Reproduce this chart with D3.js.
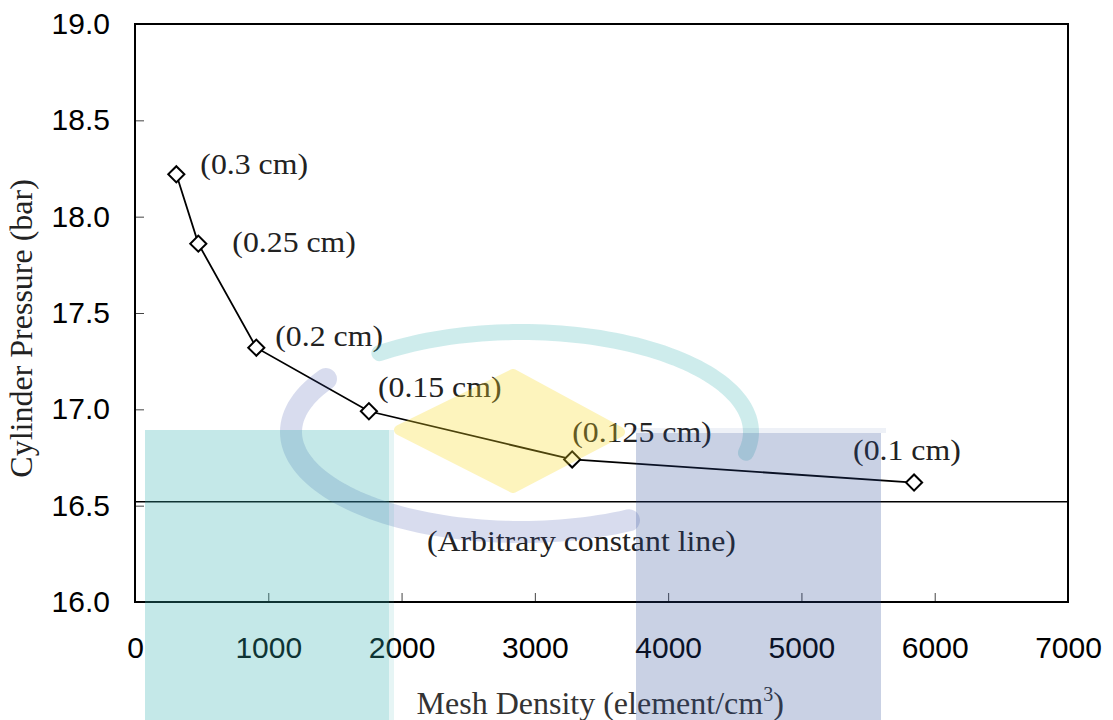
<!DOCTYPE html>
<html>
<head>
<meta charset="utf-8">
<script src="https://cdn.jsdelivr.net/npm/d3@7"></script>
<style>
  body { margin: 0; background: #fff; }
  svg { display: block; }
</style>
</head>
<body>
<svg id="chart" width="1113" height="720"></svg>
<script>

// ===========================//
// DATA
// ===========================//

// mesh density (element/cm3) and cylinder pressure (bar) for each element size
var meshDensity = [310, 475, 910, 1755, 3280, 5845]
var pressure    = [18.22, 17.86, 17.32, 16.99, 16.74, 16.62]
var sizeLabels  = ["(0.3 cm)", "(0.25 cm)", "(0.2 cm)", "(0.15 cm)", "(0.125 cm)", "(0.1 cm)"]

// arbitrary constant reference line
var constantValue = 16.52
var constantLabel = "(Arbitrary constant line)"

// ticks
var xTicks = [0, 1000, 2000, 3000, 4000, 5000, 6000, 7000]
var yTicks = [16.0, 16.5, 17.0, 17.5, 18.0, 18.5, 19.0]


// ===========================//
// LAYOUT
// ===========================//

var margin = {top: 24, left: 135, right: 45, bottom: 118}
var W = 1113, H = 720
var width = W - margin.left - margin.right
var height = H - margin.top - margin.bottom
var serif = "'Liberation Serif', 'Times New Roman', serif"

// where each size label sits relative to its point (pixels)
var labelOffsets = [[24, 0], [34, 8], [19, -2], [9, -14], [0, -17], [-61, -23]]

var svg = d3.select("#chart")
var g = svg.append("g").attr("transform", "translate(" + margin.left + "," + margin.top + ")")

var x = d3.scaleLinear().domain([0, 7000]).range([0, width])
var y = d3.scaleLinear().domain([16, 19]).range([height, 0])

var points = meshDensity.map(function(d, i){ return {x: d, y: pressure[i], label: sizeLabels[i]} })

// the serif text in the original is set a little wide
function widen(sel, k){
  sel.each(function(){
    var len = this.getComputedTextLength()
    d3.select(this).attr("textLength", len * k).attr("lengthAdjust", "spacingAndGlyphs")
  })
}


// ===========================//
// AXES
// ===========================//

var xAxis = g.append("g")
  .attr("transform", "translate(0," + height + ")")
  .call(d3.axisBottom(x).tickValues(xTicks).tickSizeInner(-9).tickSizeOuter(0)
    .tickFormat(d3.format("d")))

var yAxis = g.append("g")
  .call(d3.axisLeft(y).tickValues(yTicks).tickSizeInner(-9).tickSizeOuter(0).tickPadding(25)
    .tickFormat(d3.format(".1f")))

// remove the domain lines, the frame is drawn separately
xAxis.select(".domain").remove()
yAxis.select(".domain").remove()

g.selectAll(".tick line").attr("stroke", "#444").attr("stroke-width", 1)
g.selectAll(".tick text")
  .attr("fill", "#000")
  .style("font-family", "'Liberation Sans', Arial, sans-serif")
  .style("font-size", "30px")
xAxis.selectAll(".tick text").attr("dy", "0.36em").attr("y", 45)
// first and last ticks sit on the frame
xAxis.selectAll(".tick line").filter(function(d){ return d == 0 || d == 7000 }).remove()
yAxis.selectAll(".tick line").filter(function(d){ return d == 16 || d == 19 }).remove()

// frame
g.append("rect")
  .attr("width", width)
  .attr("height", height)
  .attr("fill", "none")
  .attr("stroke", "#000")
  .attr("stroke-width", 2)


// ===========================//
// CONSTANT LINE
// ===========================//

g.append("line")
  .attr("x1", 0).attr("x2", width)
  .attr("y1", y(constantValue)).attr("y2", y(constantValue))
  .attr("stroke", "#000")
  .attr("stroke-width", 1.5)

g.append("text")
  .attr("x", x(2190))
  .attr("y", y(constantValue) + 49)
  .style("font-family", serif)
  .style("font-size", "30px")
  .attr("fill", "#222")
  .text(constantLabel)
  .call(widen, 1.06)


// ===========================//
// CURVE + MARKERS
// ===========================//

var line = d3.line()
  .x(function(d){ return x(d.x) })
  .y(function(d){ return y(d.y) })

g.append("path")
  .datum(points)
  .attr("d", line)
  .attr("fill", "none")
  .attr("stroke", "#000")
  .attr("stroke-width", 1.8)

g.selectAll(".marker")
  .data(points)
  .enter()
  .append("path")
    .attr("class", "marker")
    .attr("d", d3.symbol().type(d3.symbolSquare).size(130))
    .attr("transform", function(d){ return "translate(" + x(d.x) + "," + y(d.y) + ") rotate(45)" })
    .attr("fill", "#fff")
    .attr("stroke", "#000")
    .attr("stroke-width", 2)

g.selectAll(".sizeLabel")
  .data(points)
  .enter()
  .append("text")
    .attr("class", "sizeLabel")
    .attr("x", function(d, i){ return x(d.x) + labelOffsets[i][0] })
    .attr("y", function(d, i){ return y(d.y) + labelOffsets[i][1] })
    .style("font-family", serif)
    .style("font-size", "30px")
    .attr("fill", "#222")
    .text(function(d){ return d.label })
    .call(widen, 1.06)


// ===========================//
// AXIS TITLES
// ===========================//

var xTitle = svg.append("text")
  .attr("x", margin.left + x(3490))
  .attr("y", 714)
  .attr("text-anchor", "middle")
  .style("font-family", serif)
  .style("font-size", "32px")
  .attr("fill", "#333")
xTitle.append("tspan").text("Mesh Density (element/cm")
xTitle.append("tspan").attr("dy", -13).style("font-size", "20px").text("3")
xTitle.append("tspan").attr("dy", 13).text(")")

svg.append("text")
  .attr("transform", "translate(32," + (margin.top + y(17.42)) + ") rotate(-90)")
  .attr("text-anchor", "middle")
  .style("font-family", serif)
  .style("font-size", "32px")
  .attr("fill", "#222")
  .text("Cylinder Pressure (bar)")


// ===========================//
// WATERMARK (faint logo laid over the chart)
// ===========================//

var wm = svg.append("g").style("pointer-events", "none")

// swoosh ring: teal over the top, blue round the left and bottom
var cx = 521, cy = 432, rx = 230, ry = 100
function arcPath(a0, a1){
  var pts = d3.range(a0, a1 + 1, 2).map(function(a){
    var t = a * Math.PI / 180
    return [cx + rx * Math.cos(t), cy + ry * Math.sin(t)]
  })
  return d3.line()(pts)
}
wm.append("path").attr("d", arcPath(232, 372))
  .attr("fill", "none").attr("stroke", "rgb(52,175,175)").attr("stroke-opacity", 0.24)
  .attr("stroke-width", 16).attr("stroke-linecap", "round")
wm.append("path").attr("d", arcPath(62, 212))
  .attr("fill", "none").attr("stroke", "rgb(60,80,170)").attr("stroke-opacity", 0.2)
  .attr("stroke-width", 22).attr("stroke-linecap", "round")

// yellow diamond, drawn in its own group so fill and rounded edge share one opacity
wm.append("g").attr("opacity", 0.3)
  .append("polygon")
  .attr("points", "513,374 620,432 513,488 399,430")
  .attr("fill", "rgb(250,220,40)")
  .attr("stroke", "rgb(250,220,40)")
  .attr("stroke-width", 10).attr("stroke-linejoin", "round")

// teal and blue blocks
wm.append("rect").attr("x", 145).attr("y", 430).attr("width", 244).attr("height", 300)
  .attr("fill", "rgb(52,175,175)").attr("fill-opacity", 0.29)
wm.append("rect").attr("x", 389).attr("y", 430).attr("width", 5).attr("height", 300)
  .attr("fill", "rgb(52,175,175)").attr("fill-opacity", 0.12)
wm.append("rect").attr("x", 636).attr("y", 433).attr("width", 245).attr("height", 300)
  .attr("fill", "rgb(40,72,148)").attr("fill-opacity", 0.25)
wm.append("rect").attr("x", 631).attr("y", 428).attr("width", 255).attr("height", 5)
  .attr("fill", "rgb(40,72,148)").attr("fill-opacity", 0.08)

</script>
</body>
</html>
